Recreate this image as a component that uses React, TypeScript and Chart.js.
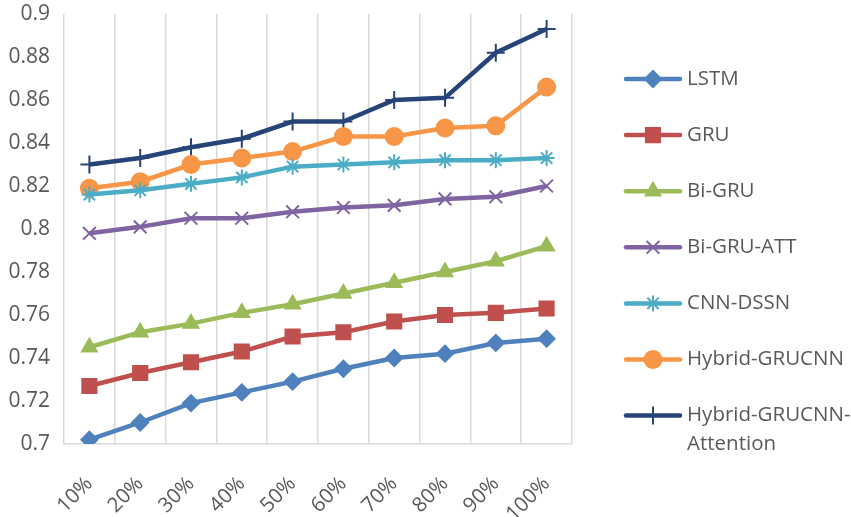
import { useEffect, useRef } from "react";
import { Chart, registerables } from "chart.js";
import { drawPoint } from "chart.js/helpers";

Chart.register(...registerables);

const categories = ["10%", "20%", "30%", "40%", "50%", "60%", "70%", "80%", "90%", "100%"];
const seriesNames = ["LSTM", "GRU", "Bi-GRU", "Bi-GRU-ATT", "CNN-DSSN", "Hybrid-GRUCNN", "Hybrid-GRUCNN-Attention"];
const lstm = [0.702, 0.71, 0.719, 0.724, 0.729, 0.735, 0.74, 0.742, 0.747, 0.749];
const gru = [0.727, 0.733, 0.738, 0.743, 0.75, 0.752, 0.757, 0.76, 0.761, 0.763];
const biGru = [0.745, 0.752, 0.756, 0.761, 0.765, 0.77, 0.775, 0.78, 0.785, 0.792];
const biGruAtt = [0.798, 0.801, 0.805, 0.805, 0.808, 0.81, 0.811, 0.814, 0.815, 0.82];
const cnnDssn = [0.816, 0.818, 0.821, 0.824, 0.829, 0.83, 0.831, 0.832, 0.832, 0.833];
const hybrid = [0.819, 0.822, 0.83, 0.833, 0.836, 0.843, 0.843, 0.847, 0.848, 0.866];
const hybridAtt = [0.83, 0.833, 0.838, 0.842, 0.85, 0.85, 0.86, 0.861, 0.882, 0.893];
const yMin = 0.7;
const yMax = 0.9;
const yStep = 0.02;

const FONT = "'Open Sans', 'Noto Sans', sans-serif";
const TEXT = "#595959";

const styles = [
  { color: "#4F81BD", point: "rectRot", radius: 8 },
  { color: "#C0504D", point: "rect", radius: 10 },
  { color: "#9BBB59", point: "triangle", radius: 8.5 },
  { color: "#8064A2", point: "crossRot", radius: 9 },
  { color: "#4BACC6", point: "star", radius: 8 },
  { color: "#F79646", point: "circle", radius: 8.5 },
  { color: "#264478", point: "cross", radius: 9 },
];

// legend on the right: line + marker + label
const sideLegend = {
  id: "sideLegend",
  afterDraw(chart: any) {
    const ctx = chart.ctx;
    const x0 = 626;
    const x1 = 680;
    const tx = 687;
    ctx.save();
    ctx.font = `20.5px ${FONT}`;
    ctx.textBaseline = "middle";
    ctx.textAlign = "left";
    chart.data.datasets.forEach((ds: any, i: number) => {
      const y = 79 + i * 56.1;
      ctx.strokeStyle = ds.borderColor;
      ctx.lineWidth = ds.borderWidth;
      ctx.lineCap = "round";
      ctx.beginPath();
      ctx.moveTo(x0, y);
      ctx.lineTo(x1, y);
      ctx.stroke();
      ctx.lineCap = "butt";
      ctx.fillStyle = ds.pointBackgroundColor;
      ctx.strokeStyle = ds.pointBorderColor;
      ctx.lineWidth = ds.pointBorderWidth;
      drawPoint(ctx, { pointStyle: ds.pointStyle, radius: ds.pointRadius, rotation: 0, borderWidth: ds.pointBorderWidth }, (x0 + x1) / 2, y);
      ctx.fillStyle = TEXT;
      const label: string = ds.label;
      if (ctx.measureText(label).width > 851 - tx) {
        const cut = label.lastIndexOf("-") + 1;
        ctx.fillText(label.slice(0, cut), tx, y);
        ctx.fillText(label.slice(cut), tx, y + 29);
      } else {
        ctx.fillText(label, tx, y);
      }
    });
    ctx.restore();
  },
};

export default function App() {
  const canvasRef = useRef<HTMLCanvasElement | null>(null);

  useEffect(() => {
    document.body.style.margin = "0";
    if (!canvasRef.current) return;
    const values = [lstm, gru, biGru, biGruAtt, cnnDssn, hybrid, hybridAtt];
    const chart = new Chart(canvasRef.current, {
      type: "line",
      data: {
        labels: categories,
        datasets: values.map((data, i) => ({
          label: seriesNames[i],
          data,
          borderColor: styles[i].color,
          backgroundColor: styles[i].color,
          borderWidth: 4.5,
          pointStyle: styles[i].point,
          pointRadius: styles[i].radius,
          pointHoverRadius: styles[i].radius,
          pointBackgroundColor: styles[i].color,
          pointBorderColor: styles[i].color,
          pointBorderWidth: 2,
          tension: 0,
          fill: false,
        })),
      },
      options: {
        animation: false,
        responsive: true,
        maintainAspectRatio: false,
        layout: { padding: { top: 14, right: 279, bottom: 0, left: 0 } },
        plugins: { legend: { display: false }, tooltip: { enabled: false } },
        scales: {
          x: {
            offset: true,
            grid: { offset: true, color: "#d9d9d9", lineWidth: 1.5, drawTicks: false },
            border: { display: true, color: "#d9d9d9", width: 1.5 },
            ticks: {
              color: TEXT,
              font: { family: FONT, size: 20.5 },
              minRotation: 45,
              maxRotation: 45,
              padding: 28,
            },
            afterFit: (scale: any) => {
              scale.height = 73;
              scale.paddingTop = 0;
              scale.paddingBottom = 0;
            },
          },
          y: {
            min: yMin,
            max: yMax,
            grid: { display: false, drawTicks: false },
            border: { display: false },
            ticks: {
              stepSize: yStep,
              color: TEXT,
              font: { family: FONT, size: 21 },
              padding: 14,
              callback: (v: any) => String(Number(Number(v).toFixed(2))),
            },
            afterFit: (scale: any) => {
              scale.width = 64;
              scale.paddingTop = 0;
              scale.paddingBottom = 0;
            },
          },
        },
      },
      plugins: [sideLegend],
    });
    return () => chart.destroy();
  }, []);

  return (
    <div style={{ width: 851, height: 517, position: "relative", background: "#fff" }}>
      <canvas ref={canvasRef} />
    </div>
  );
}
